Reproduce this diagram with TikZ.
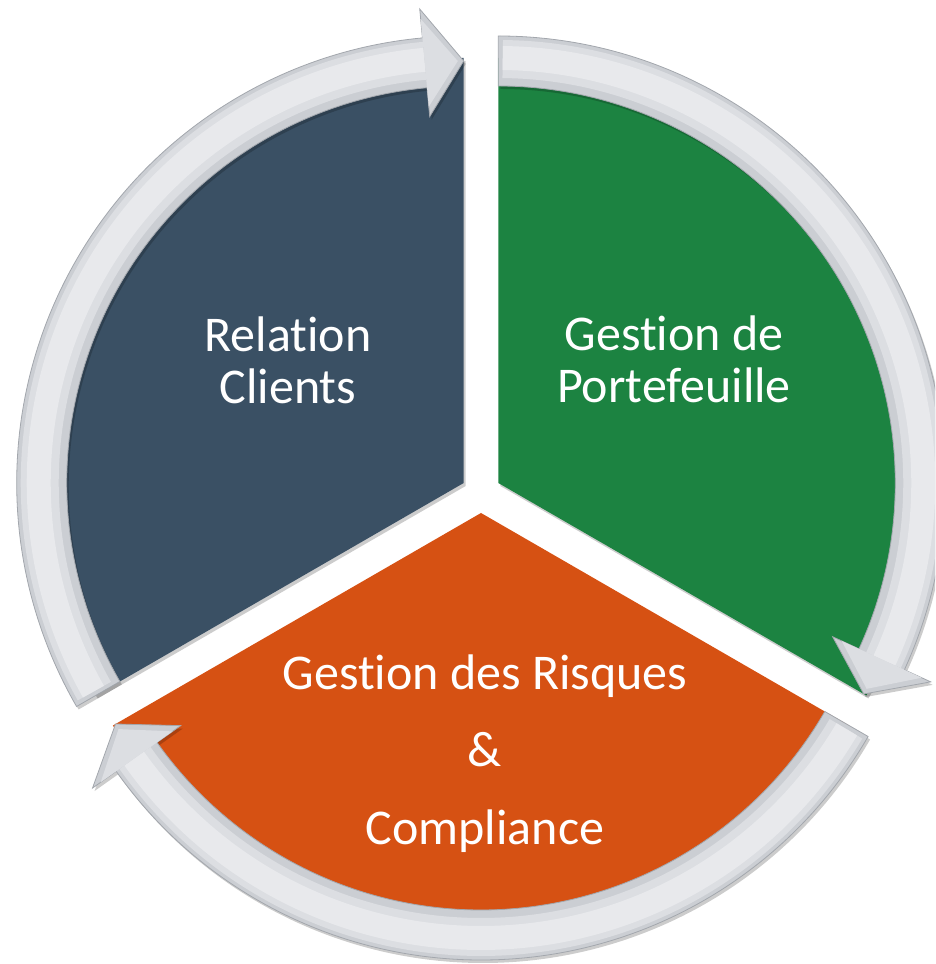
\documentclass[tikz,border=0pt]{standalone}
\usepackage{fontspec}
\setmainfont{Carlito}[Ligatures=NoCommon]
\usetikzlibrary{math,calc}

\definecolor{segblue}{HTML}{3A5064}
\definecolor{seggreen}{HTML}{1C8341}
\definecolor{segorange}{HTML}{D65113}
\definecolor{bandgray}{HTML}{CBCED3}
\definecolor{bandmid}{HTML}{DCDEE2}
\definecolor{bandlight}{HTML}{E8E9EC}
\definecolor{bandedge}{HTML}{A3A7AD}

\begin{document}
\begin{tikzpicture}[
  x=1pt,y=1pt,
  seg_fill/.style={
    fill=#1
  },
  seg_shadow/.style={
    fill=black,opacity=0.2,transform canvas={shift={(2pt,-3pt)}}
  },
  band_fill/.style={
    fill=bandgray,draw=bandedge,line width=0.8pt
  },
  band_mid/.style={
    draw=bandmid,line width=38pt
  },
  band_light/.style={
    draw=bandlight,line width=24pt
  },
  seg_label/.style={
    text=white,align=center,font=\fontsize{50}{52}\selectfont
  }]
  %
  \useasboundingbox (0,0) rectangle (935,964);
  \clip (0,0) rectangle (935,964);
  %
  \foreach \name/\cx/\cy/\a/\col in {rel/463.7/481/90/segblue,port/498.3/481/-30/seggreen,risk/481/451/210/segorange} {
    \tikzmath {
      \tailang = \a + 120;
    }
    \coordinate (c_\name) at (\cx,\cy);
    \fill[seg_shadow] (c_\name) -- ++(\a:425pt) arc[start angle=\a,end angle=\tailang,radius=425pt] -- cycle;
    \fill[seg_fill=\col] (c_\name) -- ++(\a:425pt) arc[start angle=\a,end angle=\tailang,radius=425pt] -- cycle;
  }
  \foreach \name/\a in {rel/90,port/-30,risk/210} {
    \tikzmath {
      \tailang = \a + 120;
      \headang = \a + 5.3;
      \lightang = \tailang - 0.6;
    }
    \fill[seg_shadow] ($(c_\name)+(\tailang:447pt)$) arc[start angle=\tailang,end angle=\headang,radius=447pt]
      -- ($(c_\name)+(\headang:476pt)$) -- ($(c_\name)+(\a:422pt)$) -- ($(c_\name)+(\headang:368pt)$)
      -- ($(c_\name)+(\headang:397pt)$) arc[start angle=\headang,end angle=\tailang,radius=397pt] -- cycle;
    \path[band_fill] ($(c_\name)+(\tailang:447pt)$) arc[start angle=\tailang,end angle=\headang,radius=447pt]
      -- ($(c_\name)+(\headang:476pt)$) -- ($(c_\name)+(\a:422pt)$) -- ($(c_\name)+(\headang:368pt)$)
      -- ($(c_\name)+(\headang:397pt)$) arc[start angle=\headang,end angle=\tailang,radius=397pt] -- cycle;
    \draw[band_mid] ($(c_\name)+(\lightang:424pt)$) arc[start angle=\lightang,end angle=\headang,radius=424pt];
    \draw[band_light] ($(c_\name)+(\lightang:425pt)$) arc[start angle=\lightang,end angle=\headang,radius=425pt];
    \fill[bandmid] ($(c_\name)+(\headang:466pt)$) -- ($(c_\name)+(\a+0.8:422pt)$) -- ($(c_\name)+(\headang:378pt)$) -- cycle;
  }
  %
  \node[seg_label] (lbl_rel) at (288,604) {Relation\\Clients};
  \node[seg_label] (lbl_port) at (674,605) {Gestion de\\Portefeuille};
  \node[seg_label,font=\fontsize{50}{77.5}\selectfont] (lbl_risk) at (485,210.5) {Gestion des Risques\\\&\\Compliance};
\end{tikzpicture}
\end{document}
